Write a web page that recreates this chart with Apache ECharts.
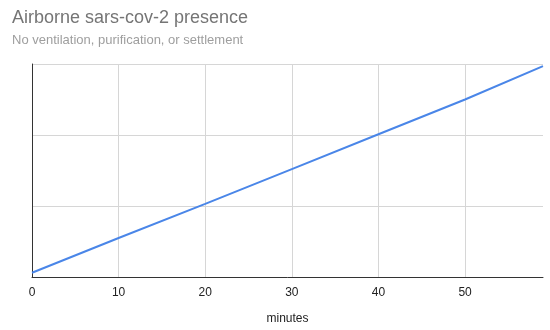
<!DOCTYPE html>
<html><head><meta charset="utf-8">
<script src="https://cdn.jsdelivr.net/npm/echarts@6/dist/echarts.min.js"></script>
<style>html,body{margin:0;padding:0;background:#fff}#c{width:550px;height:330px}</style>
</head><body><div id="c"></div>
<script>
const minutes = [0, 10, 20, 30, 40, 50, 59];
const presence = [0.06, 0.55, 1.03, 1.52, 2.01, 2.5, 2.97];
const xTicks = [0, 10, 20, 30, 40, 50];

const chart = echarts.init(document.getElementById('c'), null, {renderer: 'canvas'});
chart.setOption({
  animation: false,
  title: {
    text: 'Airborne sars-cov-2 presence',
    subtext: 'No ventilation, purification, or settlement',
    left: 7, top: 4, itemGap: 7,
    textStyle: {fontFamily: 'Liberation Sans, Arial, sans-serif', fontSize: 18, fontWeight: 'normal', color: '#757575'},
    subtextStyle: {fontFamily: 'Liberation Sans, Arial, sans-serif', fontSize: 13, color: '#9e9e9e'}
  },
  grid: {left: 32, right: 7, top: 64, bottom: 52},
  xAxis: {
    type: 'value', min: 0, max: 59, interval: 10,
    name: 'minutes', nameLocation: 'middle', nameGap: 36,
    nameTextStyle: {fontFamily: 'Liberation Sans, Arial, sans-serif', fontSize: 12, color: '#222'},
    axisLine: {lineStyle: {color: '#333', width: 1}},
    axisTick: {show: false},
    axisLabel: {color: '#222', fontSize: 12, fontFamily: 'Liberation Sans, Arial, sans-serif', margin: 10, showMaxLabel: false,
      formatter: v => xTicks.includes(v) ? String(v) : ''},
    splitLine: {show: true, showMaxLine: false, lineStyle: {color: '#d6d6d6'}}
  },
  yAxis: {
    type: 'value', min: 0, max: 3, interval: 1,
    axisLine: {show: true, lineStyle: {color: '#333', width: 1}},
    axisTick: {show: false},
    axisLabel: {show: false},
    splitLine: {lineStyle: {color: '#d6d6d6'}}
  },
  series: [{
    type: 'line',
    data: minutes.map((m, i) => [m, presence[i]]),
    showSymbol: false,
    lineStyle: {color: '#4a86e8', width: 2},
    itemStyle: {color: '#4a86e8'}
  }]
});
</script></body></html>
